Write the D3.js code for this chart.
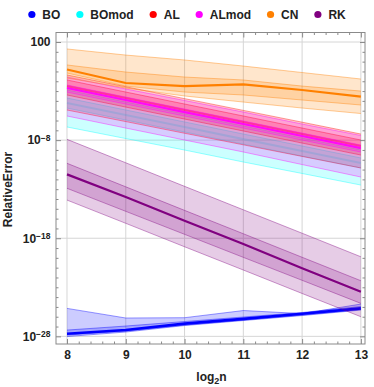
<!DOCTYPE html>
<html>
<head>
<meta charset="utf-8">
<script src="https://cdn.jsdelivr.net/npm/d3@7"></script>
<style>
  body { margin: 0; background: #fff; }
  svg { display: block; font-family: "Liberation Sans", Arial, sans-serif; }
</style>
</head>
<body>
<svg id="chart" width="374" height="387"></svg>
<script>
// x = log2 n, values are log10 of the relative error
const xs = [8, 9, 10, 11, 12, 13]

const boOutHi = [-25.15, -26.13, -26.10, -25.37, -25.68, -24.71]
const boInHi  = [-27.36, -26.95, -26.49, -26.03, -25.57, -24.96]
const boMed   = [-27.74, -27.36, -26.70, -26.22, -25.70, -25.15]
const boInLo  = [-27.87, -27.46, -26.85, -26.34, -25.83, -25.27]
const boOutLo = [-28.02, -27.56, -26.90, -26.39, -25.88, -25.32]

const bomOutHi = [-2.89, -4.12, -5.34, -6.56, -7.79, -9.01]
const bomInHi  = [-3.71, -4.93, -6.15, -7.38, -8.60, -9.82]
const bomMed   = [-4.22, -5.44, -6.66, -7.89, -9.11, -10.33]
const bomInLo  = [-4.73, -5.95, -7.17, -8.40, -9.62, -10.84]
const bomOutLo = [-6.66, -7.84, -9.01, -10.23, -11.40, -12.58]

const alOutHi = [-1.36, -2.56, -3.77, -4.97, -6.17, -7.38]
const alInHi  = [-1.87, -3.10, -4.32, -5.54, -6.77, -7.99]
const alMed   = [-2.49, -3.71, -4.93, -6.15, -7.38, -8.60]
const alInLo  = [-3.40, -4.63, -5.85, -7.07, -8.30, -9.52]
const alOutLo = [-4.93, -6.11, -7.30, -8.48, -9.66, -10.84]

const almOutHi = [-1.57, -2.79, -3.96, -5.14, -6.36, -7.53]
const almInHi  = [-2.38, -3.61, -4.83, -6.05, -7.28, -8.50]
const almMed   = [-2.69, -3.91, -5.14, -6.36, -7.58, -8.81]
const almInLo  = [-3.10, -4.32, -5.54, -6.77, -7.99, -9.21]
const almOutLo = [-5.54, -6.77, -7.99, -9.21, -10.49, -11.76]

const cnOutHi = [1.29, 0.67, 0.17, -0.45, -1.11, -1.77]
const cnInHi  = [-0.34, -1.06, -1.57, -1.87, -2.49, -3.00]
const cnMed   = [-0.80, -2.18, -2.49, -2.31, -2.89, -3.56]
const cnInLo  = [-1.16, -2.49, -3.10, -3.40, -3.91, -4.42]
const cnOutLo = [-1.67, -2.69, -3.50, -4.12, -4.73, -5.29]

const rkOutHi = [-7.92, -10.31, -12.71, -15.10, -17.49, -19.89]
const rkInHi  = [-10.36, -12.76, -15.16, -17.54, -19.94, -22.33]
const rkMed   = [-11.49, -13.80, -16.22, -18.59, -21.07, -23.45]
const rkInLo  = [-12.91, -15.26, -17.60, -19.95, -22.29, -24.64]
const rkOutLo = [-14.11, -16.48, -18.87, -21.24, -23.63, -26.00]

const names = ['BO', 'BOmod', 'AL', 'ALmod', 'CN', 'RK']
const colors = ['#0000ff', '#00ffff', '#ff0000', '#ff00ff', '#ff8000', '#800080']
const medOpacity = [1, 0.3, 0.45, 0.9, 1, 1]

const yMajor = [2, -8, -18, -28]   // exponents of labelled y ticks

const series = [
  {med: boMed, inLo: boInLo, inHi: boInHi, outLo: boOutLo, outHi: boOutHi},
  {med: bomMed, inLo: bomInLo, inHi: bomInHi, outLo: bomOutLo, outHi: bomOutHi},
  {med: alMed, inLo: alInLo, inHi: alInHi, outLo: alOutLo, outHi: alOutHi},
  {med: almMed, inLo: almInLo, inHi: almInHi, outLo: almOutLo, outHi: almOutHi},
  {med: cnMed, inLo: cnInLo, inHi: cnInHi, outLo: cnOutLo, outHi: cnOutHi},
  {med: rkMed, inLo: rkInLo, inHi: rkInHi, outLo: rkOutLo, outHi: rkOutHi}
].map((s, i) => ({...s, name: names[i], color: colors[i], medOp: medOpacity[i]}))

const P = e => Math.pow(10, e)

const svg = d3.select("#chart")
const pL = 56, pR = 365, pT = 32.5, pB = 344

const x = d3.scaleLinear().domain([7.813, 13.07]).range([pL, pR])
const y = d3.scaleLog().domain([P(2.97), P(-28.78)]).range([pT, pB])

// gridlines
svg.append("g").selectAll("line")
  .data(xs)
  .join("line")
    .attr("x1", d => x(d)).attr("x2", d => x(d))
    .attr("y1", pT).attr("y2", pB)
    .attr("stroke", "#d6d6d6")
svg.append("g").selectAll("line")
  .data(yMajor)
  .join("line")
    .attr("x1", pL).attr("x2", pR)
    .attr("y1", d => y(P(d))).attr("y2", d => y(P(d)))
    .attr("stroke", "#d6d6d6")

svg.append("clipPath").attr("id", "clip")
  .append("rect").attr("x", pL).attr("y", pT).attr("width", pR - pL).attr("height", pB - pT)

const plot = svg.append("g").attr("clip-path", "url(#clip)")

const band = (lo, hi) => d3.area()
  .x((d, i) => x(xs[i]))
  .y0((d, i) => y(P(lo[i])))
  .y1((d, i) => y(P(hi[i])))(xs)
const line = arr => d3.line()
  .x((d, i) => x(xs[i]))
  .y((d, i) => y(P(arr[i])))(xs)

series.forEach(s => {
  const g = plot.append("g")
  g.append("path").attr("d", band(s.outLo, s.outHi))
    .attr("fill", s.color).attr("fill-opacity", 0.2)
  g.append("path").attr("d", band(s.inLo, s.inHi))
    .attr("fill", s.color).attr("fill-opacity", 0.2)
  ;[s.outLo, s.outHi, s.inLo, s.inHi].forEach(arr => {
    g.append("path").attr("d", line(arr))
      .attr("fill", "none").attr("stroke", s.color)
      .attr("stroke-opacity", 0.4).attr("stroke-width", 1)
  })
  g.append("path").attr("d", line(s.med))
    .attr("fill", "none").attr("stroke", s.color)
    .attr("stroke-opacity", s.medOp)
    .attr("stroke-width", s.name === 'BO' ? 2.6 : 2.2)
})

// axes (ticks point inward, Mathematica style)
const xMinor = d3.range(8, 13.001, 0.2).filter(v => Math.abs(v - Math.round(v)) > 0.01)
const yMinor = d3.range(-28, 3).filter(e => !yMajor.includes(e)).map(P)

function styleAxis(g) {
  g.select(".domain").remove()
  g.selectAll("line").attr("stroke", "#8a8a8a")
  g.selectAll("text").attr("font-size", 12).attr("font-weight", "bold")
    .attr("fill", "#222").attr("font-family", "Liberation Sans, Arial, sans-serif")
}

svg.append("g").attr("transform", `translate(0,${pB})`)
  .call(d3.axisBottom(x).tickValues(xs).tickSizeInner(-5).tickSizeOuter(0).tickPadding(6).tickFormat(d3.format("d")))
  .call(styleAxis)
svg.append("g").attr("transform", `translate(0,${pB})`)
  .call(d3.axisBottom(x).tickValues(xMinor).tickSizeInner(-2.5).tickSizeOuter(0).tickFormat(""))
  .call(styleAxis)
svg.append("g").attr("transform", `translate(0,${pT})`)
  .call(d3.axisTop(x).tickValues(xs).tickSizeInner(-5).tickSizeOuter(0).tickFormat(""))
  .call(styleAxis)
svg.append("g").attr("transform", `translate(0,${pT})`)
  .call(d3.axisTop(x).tickValues(xMinor).tickSizeInner(-2.5).tickSizeOuter(0).tickFormat(""))
  .call(styleAxis)

const yLeft = svg.append("g").attr("transform", `translate(${pL},0)`)
  .call(d3.axisLeft(y).tickValues(yMajor.map(P)).tickSizeInner(-5).tickSizeOuter(0).tickPadding(5.5).tickFormat(() => ""))
  .call(styleAxis)
yLeft.selectAll(".tick text").each(function(d) {
  const t = d3.select(this)
  const e = Math.round(Math.log10(d))
  if (e === 2) {
    t.text("100")
  } else {
    t.append("tspan").text("10")
    t.append("tspan").attr("dy", "-0.45em").attr("font-size", 8.5).text("\u2212" + Math.abs(e))
  }
})
svg.append("g").attr("transform", `translate(${pL},0)`)
  .call(d3.axisLeft(y).tickValues(yMinor).tickSizeInner(-2.5).tickSizeOuter(0).tickFormat(""))
  .call(styleAxis)
svg.append("g").attr("transform", `translate(${pR},0)`)
  .call(d3.axisRight(y).tickValues(yMajor.map(P)).tickSizeInner(-5).tickSizeOuter(0).tickFormat(""))
  .call(styleAxis)
svg.append("g").attr("transform", `translate(${pR},0)`)
  .call(d3.axisRight(y).tickValues(yMinor).tickSizeInner(-2.5).tickSizeOuter(0).tickFormat(""))
  .call(styleAxis)

// frame
svg.append("rect")
  .attr("x", pL).attr("y", pT).attr("width", pR - pL).attr("height", pB - pT)
  .attr("fill", "none").attr("stroke", "#8a8a8a")

// axis labels
const xl = svg.append("text")
  .attr("x", (pL + pR) / 2 + 1).attr("y", 381)
  .attr("text-anchor", "middle").attr("font-size", 12).attr("font-weight", "bold").attr("fill", "#222")
xl.append("tspan").text("log")
xl.append("tspan").attr("dy", 3).attr("font-size", 9).text("2")
xl.append("tspan").attr("dy", -3).text("n")

svg.append("text")
  .attr("transform", "translate(12,189.5) rotate(-90)")
  .attr("text-anchor", "middle").attr("font-size", 12).attr("font-weight", "bold").attr("fill", "#222")
  .text("RelativeError")

// legend
const leg = svg.append("g")
let cx = 0
series.forEach(s => {
  const it = leg.append("g").attr("transform", `translate(${cx},0)`)
  it.append("circle").attr("cx", 0).attr("cy", 0).attr("r", 3.6).attr("fill", s.color)
  const tx = it.append("text").attr("x", 10.5).attr("y", 4.3)
    .attr("font-size", 12).attr("font-weight", "bold").attr("fill", "#222").text(s.name)
  const w = tx.node().getComputedTextLength()
  cx += 10.5 + w + 19.5
})
const legW = cx - 19.5 + 3.6
leg.attr("transform", `translate(${187 - legW / 2 + 3.6},14.5)`)
</script>
</body>
</html>
